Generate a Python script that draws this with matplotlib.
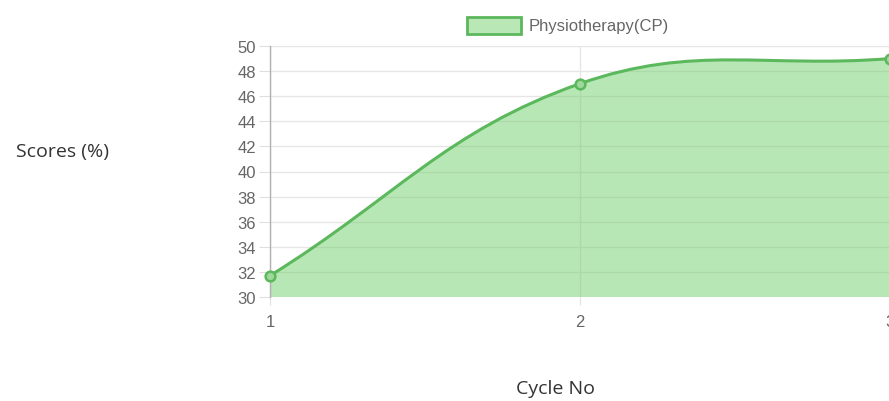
import matplotlib
matplotlib.use("Agg")
import matplotlib.pyplot as plt
import numpy as np
from matplotlib.path import Path
from matplotlib.patches import PathPatch, Rectangle

cycles = [1, 2, 3]
scores = [31.7, 47.0, 49.0]
series_label = "Physiotherapy(CP)"
y_ticks = list(range(30, 51, 2))

W, H = 889, 402
fig = plt.figure(figsize=(W / 100, H / 100), dpi=100)
ax = fig.add_axes([270 / W, (H - 298) / H, 620 / W, 251 / H])
ax.set_xlim(1, 3)
ax.set_ylim(30, 50)

# Chart.js-style bezier spline (tension 0.4) in pixel space
px_x = 620 / 2.0
px_y = 251 / 20.0
pts = np.array([[(x - 1) * px_x, (y - 30) * px_y] for x, y in zip(cycles, scores)])
t = 0.4
n = len(pts)
cp_prev = []
cp_next = []
for i in range(n):
    prev = pts[i - 1] if i > 0 else pts[i]
    cur = pts[i]
    nxt = pts[i + 1] if i < n - 1 else pts[i]
    d01 = np.hypot(*(cur - prev))
    d12 = np.hypot(*(nxt - cur))
    tot = d01 + d12
    s01 = d01 / tot if tot else 0
    s12 = d12 / tot if tot else 0
    cp_prev.append(cur - t * s01 * (nxt - prev))
    cp_next.append(cur + t * s12 * (nxt - prev))

def to_data(p):
    return (p[0] / px_x + 1, p[1] / px_y + 30)

verts = [to_data(pts[0])]
codes = [Path.MOVETO]
for i in range(n - 1):
    verts += [to_data(cp_next[i]), to_data(cp_prev[i + 1]), to_data(pts[i + 1])]
    codes += [Path.CURVE4] * 3
line_path = Path(verts, codes)

fill_verts = verts + [(cycles[-1], 30), (cycles[0], 30), verts[0]]
fill_codes = codes + [Path.LINETO, Path.LINETO, Path.CLOSEPOLY]
ax.add_patch(PathPatch(Path(fill_verts, fill_codes), facecolor=(99 / 255, 202 / 255, 93 / 255, 0.45),
                       edgecolor="none", zorder=1))
ax.add_patch(PathPatch(line_path, facecolor="none", edgecolor="#5cb85c", lw=2.2, zorder=3, clip_on=False))
ax.plot(cycles, scores, "o", ms=7, mfc="#9ed89a", mec="#5cb85c", mew=1.8, zorder=4, clip_on=False)

ax.set_yticks(y_ticks)
ax.set_xticks(cycles)
ax.set_xticklabels([str(c) for c in cycles])
ax.grid(True, color="#e6e6e6", lw=1, zorder=0)
ax.set_axisbelow(True)
for s in ["top", "right", "bottom"]:
    ax.spines[s].set_visible(False)
ax.spines["left"].set_color("#b0b0b0")
ax.spines["left"].set_linewidth(1)
ax.tick_params(axis="y", length=8, color="#e0e0e0", labelsize=12, labelcolor="#666666", pad=2)
ax.tick_params(axis="x", length=6, color="#e0e0e0", labelsize=12, labelcolor="#666666", pad=6)
for lab in ax.get_xticklabels() + ax.get_yticklabels():
    lab.set_family("Liberation Sans")

fig.text(62 / W, 1 - 152 / H, "Scores (%)", ha="center", va="center", fontsize=14,
         family="Open Sans", color="#333333")
fig.text(556 / W, 1 - 389 / H, "Cycle No", ha="center", va="center", fontsize=14,
         family="Open Sans", color="#333333")

# legend
fig.patches.append(Rectangle((467 / W, 1 - 35 / H), 54 / W, 17 / H, transform=fig.transFigure,
                             facecolor="#b9e7b6", edgecolor="#5cb85c", lw=2, figure=fig))
fig.text(529 / W, 1 - 26.5 / H, series_label, ha="left", va="center", fontsize=12,
         family="Liberation Sans", color="#666666")

fig.savefig("out.png", dpi=100)
